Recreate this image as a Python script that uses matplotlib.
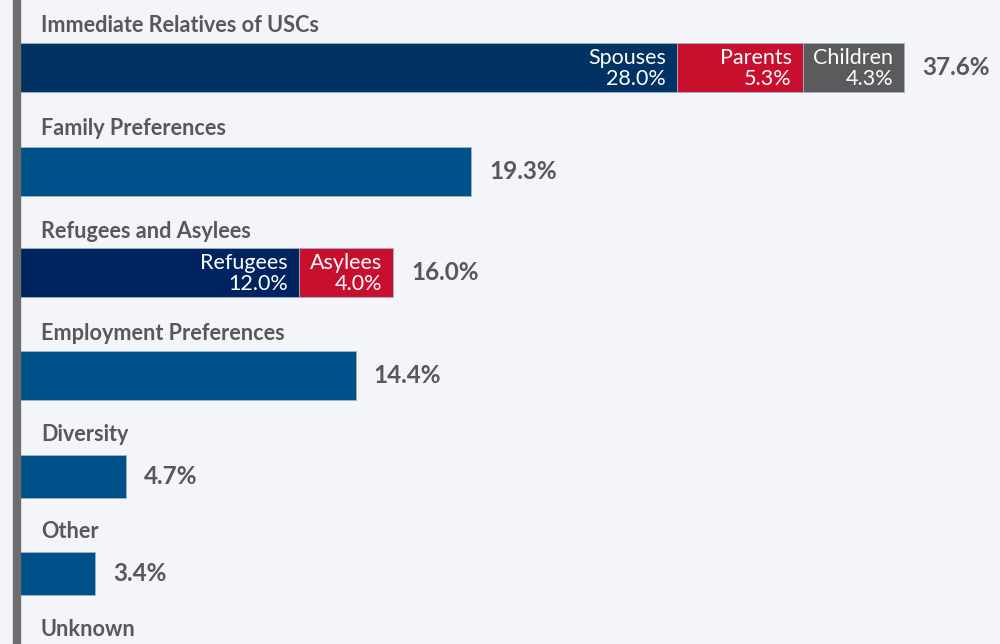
import matplotlib.pyplot as plt

plt.rcParams['font.family'] = ['Lato', 'DejaVu Sans']

categorias = ['Immediate Relatives of USCs', 'Family Preferences', 'Refugees and Asylees',
              'Employment Preferences', 'Diversity', 'Other', 'Unknown']
totales = [37.6, 19.3, 16.0, 14.4, 4.7, 3.4, None]

# segmentos de las barras apiladas
inmediatos_nombres = ['Spouses', 'Parents', 'Children']
inmediatos_valores = [28.0, 5.3, 4.3]
refugiados_nombres = ['Refugees', 'Asylees']
refugiados_valores = [12.0, 4.0]

# posiciones en pixeles (eje y invertido)
y_barra = [67.5, 171.5, 272.5, 375.5, 476, 573.5, 672]
y_titulo = [25, 128, 231, 333, 434, 532, 629]
alto = [49, 49, 49, 49, 43, 43, 43]

fondo = '#f3f5f8'
azul = '#005189'
navy = '#003263'
navy2 = '#00245f'
rojo = '#c8102e'
gris = '#5b5b5d'
texto = '#58585a'

px = 23.65  # pixeles por punto porcentual
x0 = 15

fig = plt.figure(figsize=(10, 6.44), dpi=100)
fig.patch.set_facecolor(fondo)
ax = fig.add_axes([0, 0, 1, 1])
ax.set_facecolor(fondo)
ax.set_xlim(-x0 / px, (1000 - x0) / px)
ax.set_ylim(644, 0)
ax.axis('off')

def segmentos(fila, nombres, valores, colores):
    izq = 0
    for nom, val, col in zip(nombres, valores, colores):
        ax.barh(y_barra[fila], val, left=izq, height=alto[fila], color=col,
                edgecolor='#9fb3c8', linewidth=0.6)
        ax.text(izq + val - 11 / px, y_barra[fila] + 1, f'{nom}\n{val:.1f}%', color='white',
                ha='right', va='center', fontsize=15.5, linespacing=1.12)
        izq += val

for i, cat in enumerate(categorias):
    ax.text(41 / px - x0 / px, y_titulo[i], cat, color=texto, fontsize=15.6,
            fontweight='bold', va='center', ha='left')
    if totales[i] is None:
        continue
    if i == 0:
        segmentos(i, inmediatos_nombres, inmediatos_valores, [navy, rojo, gris])
    elif i == 2:
        segmentos(i, refugiados_nombres, refugiados_valores, [navy2, rojo])
    else:
        ax.barh(y_barra[i], totales[i], height=alto[i], color=azul,
                edgecolor='#9fb3c8', linewidth=0.6)
    ax.text(totales[i] + 18 / px, y_barra[i], f'{totales[i]:.1f}%', color=texto,
            fontsize=17.5, fontweight='bold', va='center', ha='left')

# linea vertical gris a la izquierda
ax.axvline(-x0 / px + 17 / px, color='#6d6d6d', linewidth=6)

fig.savefig('out.png', dpi=100, facecolor=fondo)
